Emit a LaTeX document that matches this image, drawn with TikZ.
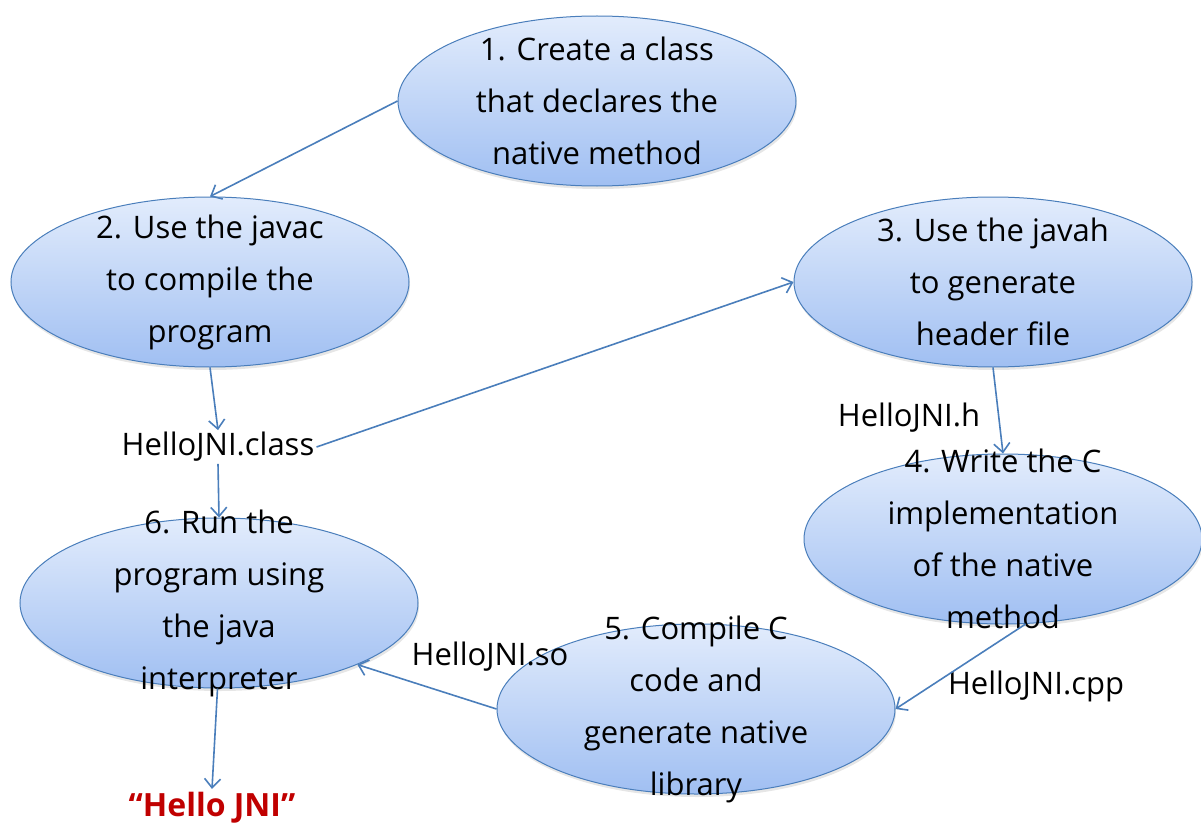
\documentclass[tikz,border=0pt]{standalone}
\usepackage{fontspec}
\setmainfont{Open Sans}
\usetikzlibrary{shapes.geometric,arrows.meta,shadows}
\definecolor{lineblue}{HTML}{4A7EBB}
\definecolor{elltop}{HTML}{E2ECFC}
\definecolor{ellbot}{HTML}{A0BFF2}
\definecolor{hellored}{HTML}{C00000}
\tikzstyle{edge} = [draw, lineblue, line width=1.6pt, -{Straight Barb[length=9pt,width=16pt]}]
\tikzstyle{stepnode} = [ellipse, draw=lineblue, line width=1pt, top color=elltop, bottom color=ellbot,
  minimum width=398pt, minimum height=170pt, inner xsep=0pt, inner ysep=-55pt, align=center,
  drop shadow={opacity=0.2, shadow xshift=1pt, shadow yshift=-3pt},
  font=\fontsize{31}{52}\selectfont]
\tikzstyle{file} = [font=\fontsize{31}{36}\selectfont, inner sep=2pt]

\begin{document}
\begin{tikzpicture}[x=1pt, y=-1pt]
   \useasboundingbox (0,0) rectangle (1201,824);
   % the six steps
   \node[stepnode] (create)  at (597,101) {1. Create a class\\that declares the\\native method};
   \node[stepnode] (javac)   at (210,282) {2. Use the javac\\to compile the\\program};
   \node[stepnode] (javah)   at (993,282) {3. Use the javah\\to generate\\header file};
   \node[stepnode] (impl)    at (1003,539) {4. Write the C\\implementation\\of the native\\method};
   \node[stepnode] (compile) at (696,709) {5. Compile C\\code and\\generate native\\library};
   \node[stepnode] (run)     at (219,603) {6. Run the\\program using\\the java\\interpreter};
   % files
   \node[file] (cls) at (218,447) {HelloJNI.class};
   \node[file] at (909,418) {HelloJNI.h};
   \node[file] at (1036,686) {HelloJNI.cpp};
   \node[file] at (490,657) {HelloJNI.so};
   \node[font=\fontsize{32}{36}\selectfont\bfseries, text=hellored] (hello) at (212,808) {“Hello JNI”};

   \path[edge] (create.west) -- (javac.north);
   \path[edge] (javac.south) -- (cls.north);
   \path[edge] (cls.east) -- (javah.west);
   \path[edge] (javah.south) -- (impl.north);
   \path[edge] (impl.-75) -- (compile.east);
   \path[edge] (compile.west) -- (run.-24);
   \path[edge] (cls.south) -- (run.north);
   \path[edge] (run.-91) -- (hello.north);
\end{tikzpicture}
\end{document}
